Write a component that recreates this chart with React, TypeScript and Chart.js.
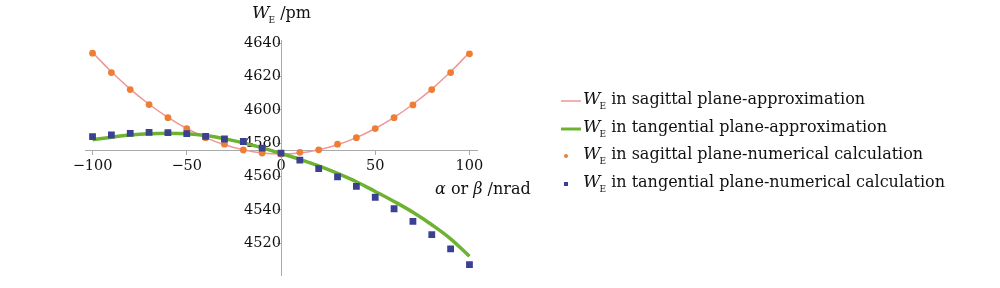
import React, { useEffect, useRef } from "react";
import { Chart, registerables } from "chart.js";

Chart.register(...registerables);

const xValues = [-100, -90, -80, -70, -60, -50, -40, -30, -20, -10, 0, 10, 20, 30, 40, 50, 60, 70, 80, 90, 100];
const sagApprox = [4634.5, 4622.9, 4612.5, 4603.4, 4595.5, 4588.8, 4583.3, 4579.0, 4576.0, 4574.1, 4573.5, 4574.1, 4576.0, 4579.0, 4583.3, 4588.8, 4595.5, 4603.4, 4612.5, 4622.9, 4634.5];
const tanApprox = [4582.0, 4583.6, 4584.9, 4585.7, 4586.0, 4585.7, 4584.6, 4582.7, 4580.2, 4577.2, 4573.8, 4570.3, 4566.3, 4561.8, 4556.8, 4551.0, 4545.0, 4538.5, 4531.0, 4522.5, 4512.0];
const sagNumeric = [4634.1, 4622.4, 4612.2, 4603.2, 4595.3, 4588.8, 4583.3, 4579.4, 4575.9, 4574.1, 4573.5, 4574.5, 4576.0, 4579.4, 4583.3, 4588.8, 4595.3, 4603.0, 4612.2, 4622.4, 4633.7];
const tanNumeric = [4583.9, 4584.9, 4585.9, 4586.5, 4586.3, 4585.7, 4584.1, 4582.5, 4581.0, 4577.0, 4574.0, 4569.8, 4564.7, 4559.8, 4554.0, 4547.5, 4540.6, 4533.0, 4525.0, 4516.5, 4507.0];
const xTicks = [-100, -50, 0, 50, 100];
const yTicks = [4520, 4540, 4560, 4580, 4600, 4620, 4640];
const legendLabels = [
  " in sagittal plane-approximation",
  " in tangential plane-approximation",
  " in sagittal plane-numerical calculation",
  " in tangential plane-numerical calculation",
];

const PINK = "rgb(240,150,150)";
const GREEN = "rgb(110,178,50)";
const ORANGE = "rgb(238,126,52)";
const BLUE = "rgb(58,64,146)";
const AXIS = "#aaaaaa";
const FONT = '"DejaVu Serif", serif';

function drawWE(ctx: CanvasRenderingContext2D, x: number, y: number, size: number) {
  ctx.font = `italic ${size}px ${FONT}`;
  ctx.fillText("W", x, y);
  const w = ctx.measureText("W").width;
  ctx.font = `${Math.round(size * 0.5)}px ${FONT}`;
  ctx.fillText("E", x + w - 1, y + size * 0.38);
  const w2 = ctx.measureText("E").width;
  return x + w - 1 + w2;
}

const overlayPlugin = {
  id: "overlay",
  afterDraw(chart: any) {
    const ctx = chart.ctx as CanvasRenderingContext2D;
    ctx.save();
    ctx.fillStyle = "#111";
    ctx.textBaseline = "middle";
    ctx.textAlign = "left";
    // y title
    const ex = drawWE(ctx, 252, 14, 17);
    ctx.font = `16px ${FONT}`;
    ctx.fillText(" /pm", ex, 14);
    // x title
    let tx = 435;
    const ty = 190;
    ctx.font = `italic 16px ${FONT}`;
    ctx.fillText("α", tx, ty);
    tx += ctx.measureText("α").width;
    ctx.font = `16px ${FONT}`;
    ctx.fillText(" or ", tx, ty);
    tx += ctx.measureText(" or ").width;
    ctx.font = `italic 16px ${FONT}`;
    ctx.fillText("β", tx, ty);
    tx += ctx.measureText("β").width;
    ctx.font = `16px ${FONT}`;
    ctx.fillText(" /nrad", tx, ty);

    // legend
    const rows = [101, 129, 156, 184];
    rows.forEach((ry, i) => {
      if (i === 0 || i === 1) {
        ctx.strokeStyle = i === 0 ? PINK : GREEN;
        ctx.lineWidth = i === 0 ? 1.5 : 3;
        ctx.beginPath();
        ctx.moveTo(561, ry);
        ctx.lineTo(581, ry);
        ctx.stroke();
      } else if (i === 2) {
        ctx.fillStyle = ORANGE;
        ctx.beginPath();
        ctx.arc(566, ry, 2, 0, Math.PI * 2);
        ctx.fill();
      } else {
        ctx.fillStyle = BLUE;
        ctx.fillRect(564, ry - 2, 4, 4);
      }
      ctx.fillStyle = "#111";
      const e = drawWE(ctx, 583, ry - 1, 17);
      ctx.font = `16px ${FONT}`;
      ctx.fillText(legendLabels[i], e, ry - 1);
    });
    ctx.restore();
  },
};

export default function App() {
  const ref = useRef<HTMLCanvasElement | null>(null);
  useEffect(() => {
    if (!ref.current) return;
    const mk = (arr: number[]) => xValues.map((x, i) => ({ x, y: arr[i] }));
    const chart = new Chart(ref.current, {
      type: "line",
      data: {
        datasets: [
          { label: "sagApprox", data: mk(sagApprox), borderColor: PINK, borderWidth: 1.5, pointRadius: 0, tension: 0.4, order: 4, fill: false },
          { label: "tanApprox", data: mk(tanApprox), borderColor: GREEN, borderWidth: 3.5, pointRadius: 0, tension: 0.4, order: 3, fill: false },
          { label: "sagNumeric", data: mk(sagNumeric), showLine: false, pointRadius: 3.4, pointBackgroundColor: ORANGE, pointBorderWidth: 0, borderColor: ORANGE, order: 2 },
          { label: "tanNumeric", data: mk(tanNumeric), showLine: false, pointStyle: "rect", pointRadius: 4.8, pointBackgroundColor: BLUE, pointBorderWidth: 0, borderColor: BLUE, order: 1 },
        ],
      },
      options: {
        animation: false,
        responsive: false,
        layout: { padding: { left: 85, right: 523, top: 40, bottom: 8 } },
        plugins: { legend: { display: false }, tooltip: { enabled: false } },
        scales: {
          x: {
            type: "linear",
            position: { y: 4575.3 } as any,
            min: -104,
            max: 104,
            afterBuildTicks: (s: any) => { s.ticks = xTicks.map((v) => ({ value: v })); },
            grid: { display: true, drawOnChartArea: false, drawTicks: true, tickLength: 4, color: AXIS },
            border: { display: true, color: AXIS, width: 1 },
            ticks: {
              font: { family: FONT, size: 14.5 },
              color: "#111",
              padding: 3,
              maxRotation: 0,
              callback: (v: any) => String(v).replace("-", "\u2212"),
            },
          },
          y: {
            type: "linear",
            position: { x: 0 } as any,
            min: 4500.6,
            max: 4642,
            afterBuildTicks: (s: any) => { s.ticks = yTicks.map((v) => ({ value: v })); },
            grid: { display: true, drawOnChartArea: false, drawTicks: true, tickLength: 4, color: AXIS },
            border: { display: true, color: AXIS, width: 1 },
            ticks: {
              font: { family: FONT, size: 14.5 },
              color: "#111",
              padding: 4,
              callback: (v: any) => String(v),
            },
          },
        },
      },
      plugins: [overlayPlugin],
    });
    return () => chart.destroy();
  }, []);
  return (
    <div style={{ position: "fixed", left: 0, top: 0, width: 1000, height: 288, background: "#fff" }}>
      <canvas ref={ref} width={1000} height={288} />
    </div>
  );
}
